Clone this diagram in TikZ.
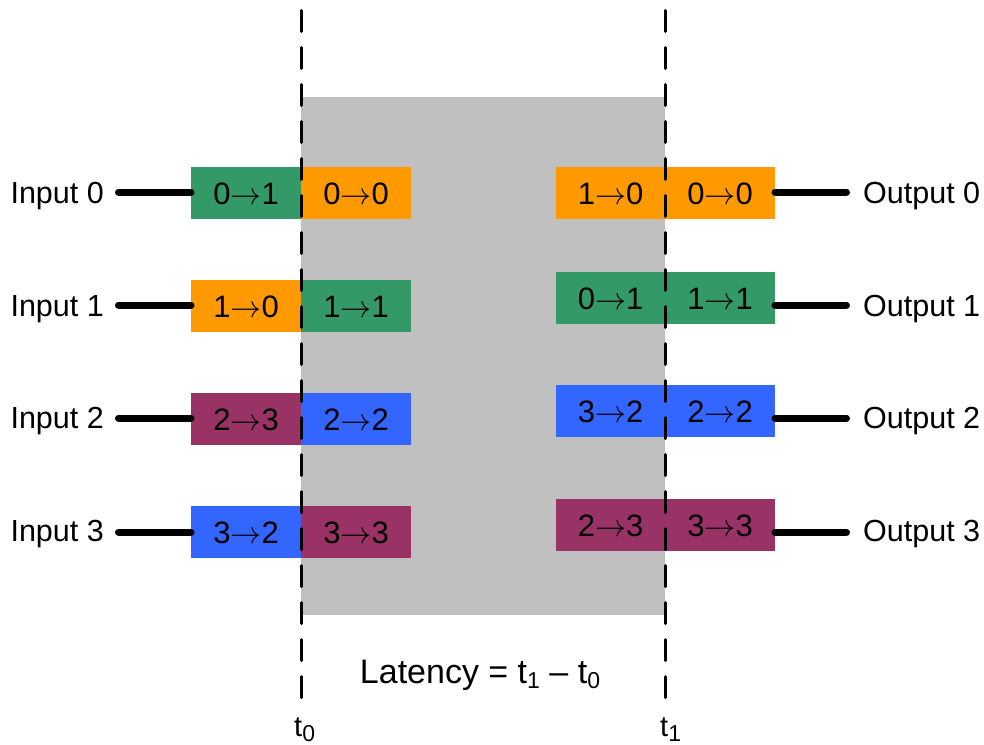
\RequirePackage{fix-cm}
\documentclass[tikz,border=0pt]{standalone}
\usepackage{fontspec}
\setmainfont{Liberation Sans}
\definecolor{cgreen}{HTML}{339966}
\definecolor{corange}{HTML}{FF9900}
\definecolor{cblue}{HTML}{3366FF}
\definecolor{cpurple}{HTML}{993366}
\definecolor{cgray}{HTML}{C0C0C0}
\newcommand{\arr}{$\rightarrow$}
\newcommand{\tsub}[1]{t\raisebox{-5pt}{\fontsize{23}{23}\selectfont #1}}
\begin{document}
\begin{tikzpicture}[x=1pt,y=-1pt,
  pkt/.style={rectangle,inner sep=0pt,outer sep=0pt,minimum width=110pt,minimum height=52pt,
    text height=22pt,text depth=0pt,font=\fontsize{31}{37}\selectfont},
  lbl/.style={inner sep=0pt,font=\fontsize{30.5}{37}\selectfont},
  wire/.style={line width=7pt,line cap=round},
  tline/.style={line width=3pt,line cap=round,dash pattern=on 21pt off 16pt}]
\useasboundingbox (0,0) rectangle (984,744);
\fill[cgray] (301,97) rectangle (665,615);
% left boxes
\node[pkt,fill=cgreen]  (i0a) at (246,193) {0\arr1};
\node[pkt,fill=corange] (i0b) at (356,193) {0\arr0};
\node[pkt,fill=corange] (i1a) at (246,306) {1\arr0};
\node[pkt,fill=cgreen]  (i1b) at (356,306) {1\arr1};
\node[pkt,fill=cpurple] (i2a) at (246,419) {2\arr3};
\node[pkt,fill=cblue]   (i2b) at (356,419) {2\arr2};
\node[pkt,fill=cblue]   (i3a) at (246,532) {3\arr2};
\node[pkt,fill=cpurple] (i3b) at (356,532) {3\arr3};
% right boxes
\node[pkt,fill=corange] (o0a) at (610.5,193) {1\arr0};
\node[pkt,fill=corange] (o0b) at (720,193) {0\arr0};
\node[pkt,fill=cgreen]  (o1a) at (610.5,298) {0\arr1};
\node[pkt,fill=cgreen]  (o1b) at (720,298) {1\arr1};
\node[pkt,fill=cblue]   (o2a) at (610.5,411) {3\arr2};
\node[pkt,fill=cblue]   (o2b) at (720,411) {2\arr2};
\node[pkt,fill=cpurple] (o3a) at (610.5,525) {2\arr3};
\node[pkt,fill=cpurple] (o3b) at (720,525) {3\arr3};
% labels
\node[lbl,anchor=base east] (li0) at (104,203) {Input 0};
\node[lbl,anchor=base east] (li1) at (104,316) {Input 1};
\node[lbl,anchor=base east] (li2) at (104,428) {Input 2};
\node[lbl,anchor=base east] (li3) at (104,541) {Input 3};
\node[lbl,anchor=base west] (lo0) at (863,203) {Output 0};
\node[lbl,anchor=base west] (lo1) at (863,316) {Output 1};
\node[lbl,anchor=base west] (lo2) at (863,428) {Output 2};
\node[lbl,anchor=base west] (lo3) at (863,541) {Output 3};
% wire ends
\coordinate (wl0) at (118.5,192);
\coordinate (wl1) at (118.5,305);
\coordinate (wl2) at (118.5,418);
\coordinate (wl3) at (118.5,532);
\coordinate (wr0) at (846.5,192);
\coordinate (wr1) at (846.5,305);
\coordinate (wr2) at (846.5,418);
\coordinate (wr3) at (846.5,532);
\draw[wire] (wl0) -- (wl0 -| i0a.west);
\draw[wire] (wl1) -- (wl1 -| i1a.west);
\draw[wire] (wl2) -- (wl2 -| i2a.west);
\draw[wire] (wl3) -- (wl3 -| i3a.west);
\draw[wire] (wr0) -- (wr0 -| o0b.east);
\draw[wire] (wr1) -- (wr1 -| o1b.east);
\draw[wire] (wr2) -- (wr2 -| o2b.east);
\draw[wire] (wr3) -- (wr3 -| o3b.east);
% time lines
\coordinate (t0top) at (301,10.5);
\coordinate (t0bot) at (301,697.5);
\coordinate (t1top) at (665,10.5);
\coordinate (t1bot) at (665,697.5);
\draw[tline] (t0top) -- (t0bot);
\draw[tline] (t1top) -- (t1bot);
\node[lbl,anchor=base west,font=\fontsize{29}{34}\selectfont] (t0) at (294,736) {\tsub{0}};
\node[lbl,anchor=base west,font=\fontsize{29}{34}\selectfont] (t1) at (660,736) {\tsub{1}};
\node[lbl,anchor=base,font=\fontsize{34}{40}\selectfont] (lat) at (480,683) {Latency = \tsub{1} – \tsub{0}};
\end{tikzpicture}
\end{document}
